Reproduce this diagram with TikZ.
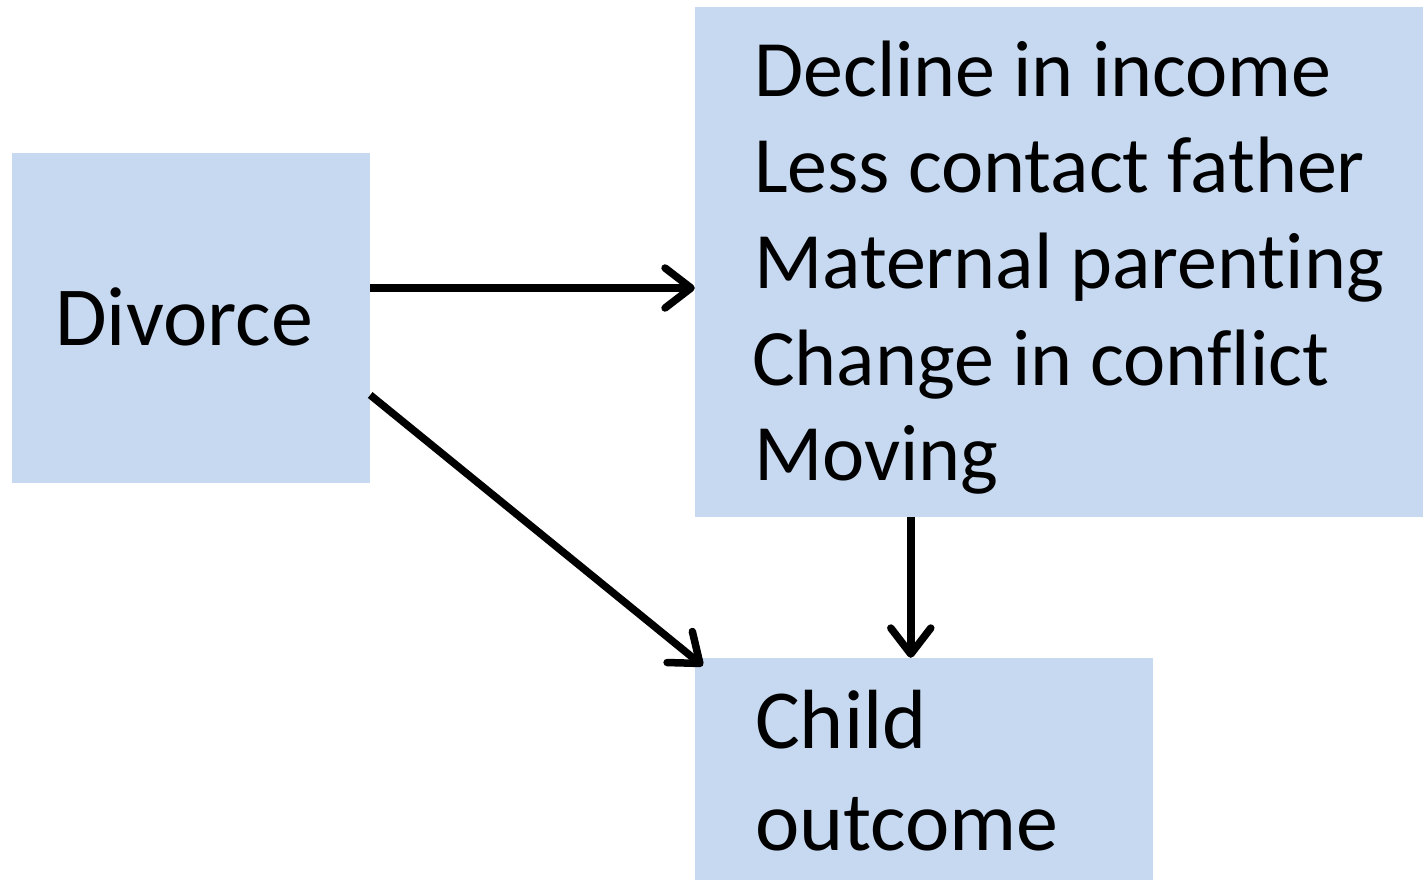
\documentclass[tikz,border=0pt]{standalone}
\usepackage{fontspec}
\setmainfont[Ligatures=NoCommon]{Carlito}
\usetikzlibrary{arrows.meta,calc}
\definecolor{boxblue}{HTML}{C6D9F1}
\tikzset{
  box/.style={fill=boxblue, draw=none, rectangle, inner sep=0pt},
  txt/.style={anchor=base west, inner sep=0pt, font=\fontsize{80}{96}\selectfont},
  bigtxt/.style={anchor=base west, inner sep=0pt, font=\fontsize{84}{100}\selectfont},
  conn/.style={line width=7.5pt, -{Straight Barb[length=26pt,width=40pt,round]}}
}
\begin{document}
\begin{tikzpicture}[x=1pt,y=-1pt]
\useasboundingbox (0,0) rectangle (1423,880);
\node[box, minimum width=358pt, minimum height=330pt] (div) at (191,318) {};
\node[box, minimum width=728pt, minimum height=510pt] (med) at (1059,262) {};
\node[box, minimum width=458pt, minimum height=222pt] (child) at (924,769) {};
\node[bigtxt] (tdiv) at (55,345) {Divorce};
\node[txt] (t1) at (754,97) {Decline in income};
\node[txt] (t2) at (754,192) {Less contact father};
\node[txt] (t3) at (754,288) {Maternal parenting};
\node[txt] (t4) at (752,385) {Change in conflict};
\node[txt] (t5) at (754,480) {Moving};
\node[bigtxt] (tc1) at (755,748) {Child};
\node[bigtxt] (tc2) at (755,850) {outcome};
\draw[conn] ($(div.east)+(0,-30)$) -- ($(med.west)+(0,26)$);
\draw[conn] ($(div.east)+(0,77)$) -- ($(child.north west)+(8,8)$);
\draw[conn] ($(med.south west)+(216,0)$) -- ($(child.north west)+(216,0)$);
\end{tikzpicture}
\end{document}
